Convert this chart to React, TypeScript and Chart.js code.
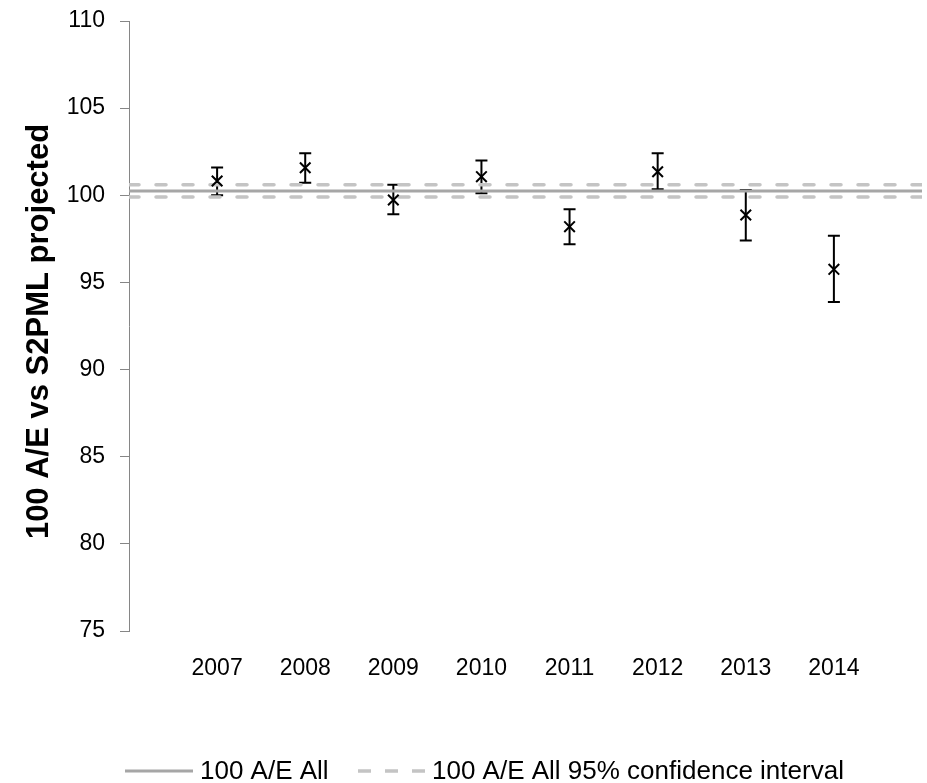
import React, { useEffect, useRef } from "react";
import { Chart, registerables } from "chart.js";

Chart.register(...registerables);

// Yearly 100 A/E ratios with their 95% confidence bounds
const years = [2007, 2008, 2009, 2010, 2011, 2012, 2013, 2014];
const aeValues = [100.82, 101.58, 99.73, 101.07, 98.2, 101.35, 98.87, 95.75];
const aeUpper = [101.6, 102.41, 100.61, 102.0, 99.2, 102.41, 100.3, 97.68];
const aeLower = [100.0, 100.72, 98.91, 100.11, 97.19, 100.34, 97.4, 93.88];

// Overall 100 A/E across all years and its 95% confidence interval
const overallAE = 100.25;
const overallUpper = 100.6;
const overallLower = 99.9;

const xRange = [2006, 2015];
const yTicks = [75, 80, 85, 90, 95, 100, 105, 110];

const yTitle = "100 A/E vs S2PML projected";
const legendSolid = "100 A/E All";
const legendDashed = "100 A/E All 95% confidence interval";

const FONT = "'Liberation Sans', Arial, sans-serif";
const SOLID_COLOR = "#a6a6a6";
const DASH_COLOR = "#c4c4c4";
const AXIS_COLOR = "#868686";
const PLOT_RIGHT_GAP = 5;

// stretch the horizontal scale to the right edge of the plot
const plotWidthPlugin = {
  id: "plotWidth",
  afterLayout(chart: any) {
    const xs = chart.scales.x;
    const right = chart.width - PLOT_RIGHT_GAP;
    xs.right = right;
    xs.width = right - xs.left;
    xs.configure();
    chart.chartArea.right = right;
    chart.chartArea.width = right - chart.chartArea.left;
  },
};

const errorBarPlugin = {
  id: "errorBars",
  beforeDatasetsDraw(chart: any) {
    const { ctx, scales } = chart;
    const xs = scales.x;
    const ys = scales.y;
    ctx.save();
    ctx.strokeStyle = "#000";
    ctx.lineWidth = 2;
    years.forEach((yr, i) => {
      const px = xs.getPixelForValue(yr);
      const top = ys.getPixelForValue(aeUpper[i]);
      const bot = ys.getPixelForValue(aeLower[i]);
      ctx.beginPath();
      ctx.moveTo(px, top);
      ctx.lineTo(px, bot);
      ctx.moveTo(px - 6, top);
      ctx.lineTo(px + 6, top);
      ctx.moveTo(px - 6, bot);
      ctx.lineTo(px + 6, bot);
      ctx.stroke();
    });
    ctx.restore();
  },
};

const decorPlugin = {
  id: "decor",
  afterDraw(chart: any) {
    const { ctx } = chart;
    ctx.save();
    // vertical axis title
    ctx.fillStyle = "#000";
    ctx.font = `bold 31px ${FONT}`;
    ctx.textAlign = "center";
    ctx.textBaseline = "alphabetic";
    ctx.translate(48, 331.5);
    ctx.rotate(-Math.PI / 2);
    ctx.fillText(yTitle, 0, 0);
    ctx.restore();

    // legend
    ctx.save();
    const ly = 771;
    ctx.lineWidth = 3;
    ctx.strokeStyle = SOLID_COLOR;
    ctx.beginPath();
    ctx.moveTo(125, ly);
    ctx.lineTo(193, ly);
    ctx.stroke();
    ctx.strokeStyle = DASH_COLOR;
    ctx.lineWidth = 3.5;
    ctx.setLineDash([13, 14]);
    ctx.beginPath();
    ctx.moveTo(358, ly);
    ctx.lineTo(425, ly);
    ctx.stroke();
    ctx.setLineDash([]);
    ctx.fillStyle = "#000";
    ctx.font = `26px ${FONT}`;
    ctx.textAlign = "left";
    ctx.textBaseline = "alphabetic";
    ctx.fillText(legendSolid, 200, 779);
    ctx.fillText(legendDashed, 432, 779);
    ctx.restore();
  },
};

export default function App() {
  const canvasRef = useRef<HTMLCanvasElement | null>(null);

  useEffect(() => {
    if (!canvasRef.current) return;
    const span = (v: number) => [
      { x: xRange[0], y: v },
      { x: xRange[1], y: v },
    ];
    const chart = new Chart(canvasRef.current, {
      type: "scatter",
      data: {
        datasets: [
          {
            label: "100 A/E",
            data: years.map((yr, i) => ({ x: yr, y: aeValues[i] })),
            pointStyle: "crossRot",
            pointRadius: 7.5,
            pointBorderWidth: 2,
            pointBorderColor: "#000",
            pointBackgroundColor: "#000",
            showLine: false,
          },
          {
            label: legendSolid,
            data: span(overallAE),
            showLine: true,
            borderColor: SOLID_COLOR,
            borderWidth: 3,
            pointRadius: 0,
          },
          {
            label: legendDashed,
            data: span(overallUpper),
            showLine: true,
            borderColor: DASH_COLOR,
            borderWidth: 3.5,
            borderDash: [10, 17],
            borderCapStyle: "round",
            pointRadius: 0,
          },
          {
            label: legendDashed + " (lower)",
            data: span(overallLower),
            showLine: true,
            borderColor: DASH_COLOR,
            borderWidth: 3.5,
            borderDash: [10, 17],
            borderCapStyle: "round",
            pointRadius: 0,
          },
        ],
      },
      options: {
        animation: false,
        responsive: false,
        events: [],
        layout: { padding: { left: 0, top: 21, right: PLOT_RIGHT_GAP, bottom: 0 } },
        plugins: {
          legend: { display: false },
          tooltip: { enabled: false },
          title: { display: false },
        },
        scales: {
          x: {
            type: "linear",
            position: "bottom",
            min: xRange[0],
            max: xRange[1],
            grid: { display: false, drawTicks: false },
            border: { display: false },
            afterBuildTicks: (s: any) => {
              s.ticks = years.map((v) => ({ value: v }));
            },
            ticks: {
              color: "#000",
              font: { family: FONT, size: 23 },
              padding: 24,
              maxRotation: 0,
              autoSkip: false,
              callback: (v: any) => String(v),
            },
            afterFit: (s: any) => {
              s.height = 152;
              s.paddingLeft = 0;
              s.paddingRight = 0;
              s.paddingTop = 0;
              s.paddingBottom = 0;
            },
          },
          y: {
            type: "linear",
            min: 75,
            max: 110,
            afterBuildTicks: (s: any) => {
              s.ticks = yTicks.map((v) => ({ value: v }));
            },
            grid: {
              drawOnChartArea: false,
              drawTicks: true,
              tickLength: 9,
              color: AXIS_COLOR,
              lineWidth: 1,
            },
            border: { display: true, color: AXIS_COLOR, width: 1 },
            ticks: {
              color: "#000",
              font: { family: FONT, size: 23 },
              padding: 15,
              callback: (v: any) => String(v),
            },
            afterFit: (s: any) => {
              s.width = 129;
              s.paddingLeft = 0;
              s.paddingRight = 0;
              s.paddingTop = 0;
              s.paddingBottom = 0;
            },
          },
        },
      },
      plugins: [plotWidthPlugin, errorBarPlugin, decorPlugin],
    });
    return () => chart.destroy();
  }, []);

  return (
    <div style={{ position: "absolute", left: 0, top: 0, width: 927, height: 783, background: "#fff" }}>
      <canvas ref={canvasRef} width={927} height={783} style={{ display: "block" }} />
    </div>
  );
}
